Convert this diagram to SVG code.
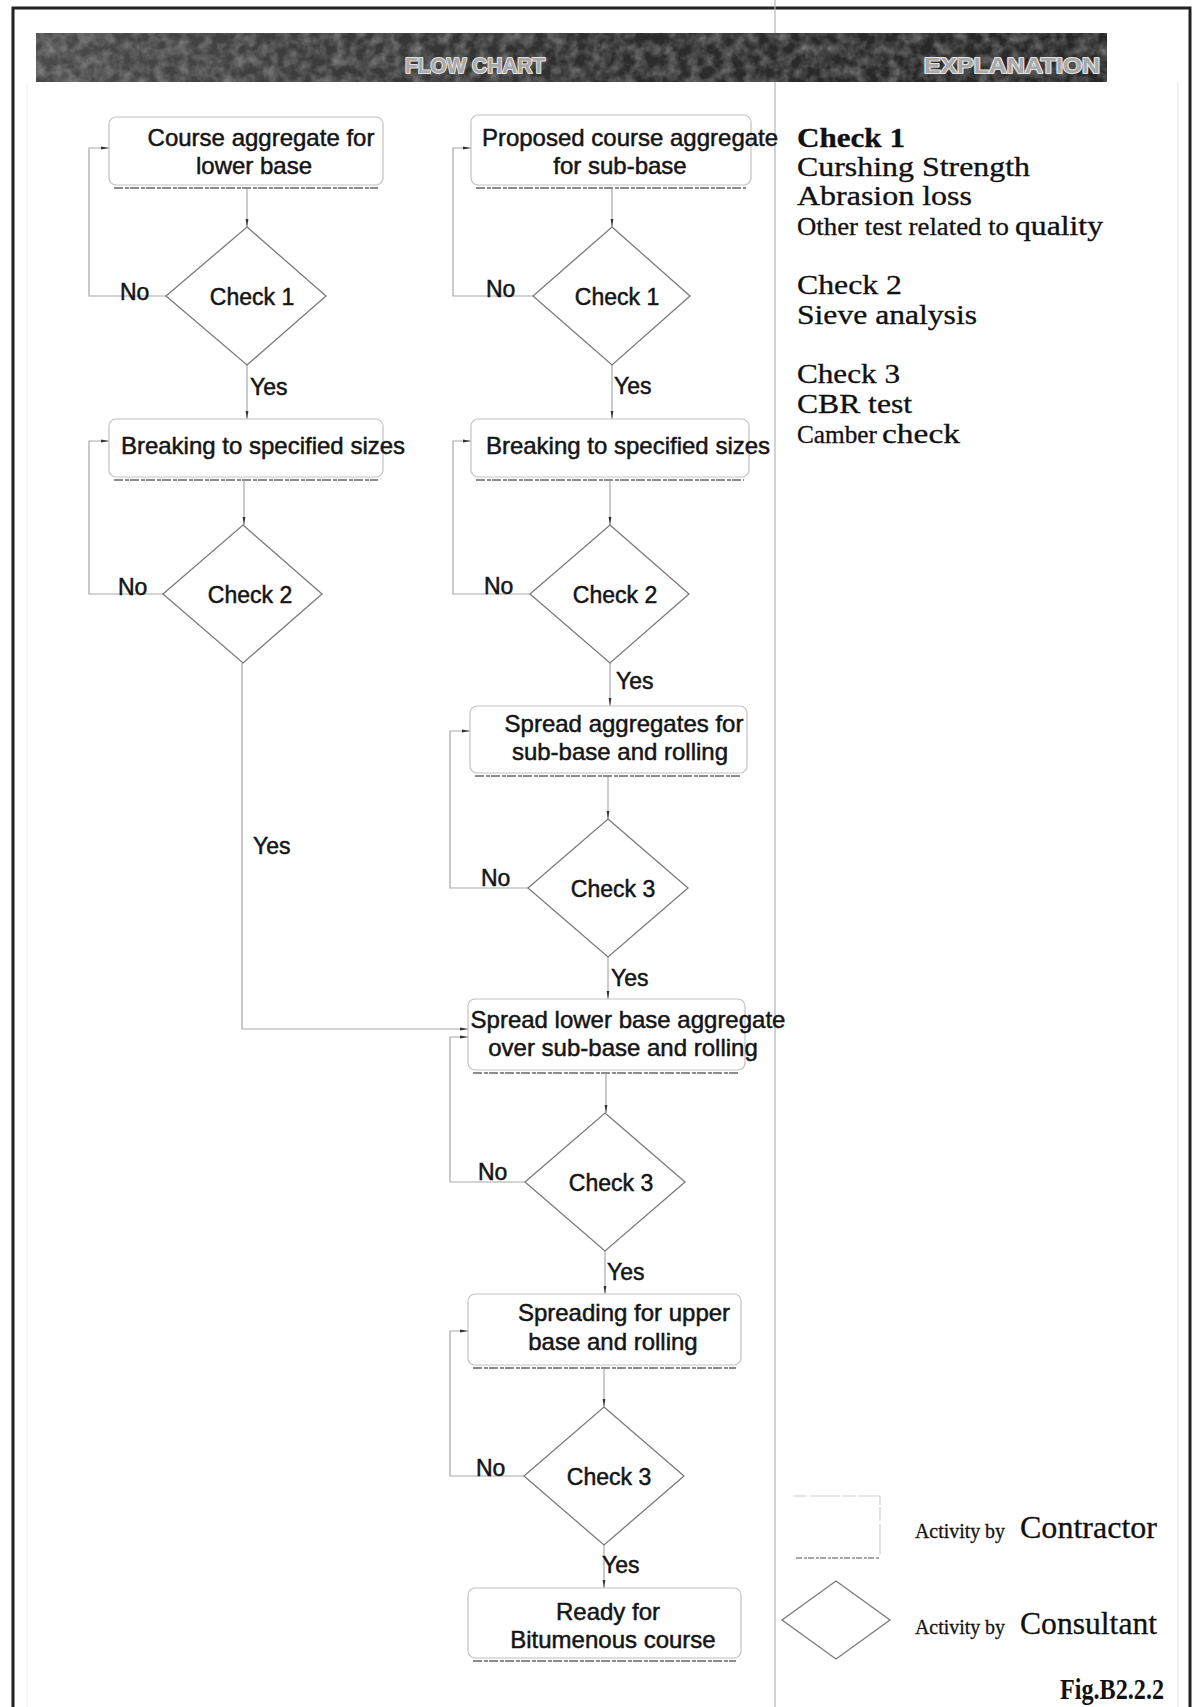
<svg xmlns="http://www.w3.org/2000/svg" width="1199" height="1707" viewBox="0 0 1199 1707">
<defs>
<style>
.bx{fill:#fff;stroke:#c2c2c2;stroke-width:1.2}
.sh{fill:none;stroke:#8c8c8c;stroke-width:2;stroke-dasharray:9 2 4 1}
.dm{fill:#fff;stroke:#7a7a7a;stroke-width:1.3}
.ln{fill:none;stroke:#a8a8a8;stroke-width:1.2}
.t{font-family:"Liberation Sans",Arial,sans-serif;font-size:24px;fill:#151515;stroke:#151515;stroke-width:0.5}
.tm{text-anchor:middle}
.lb{font-family:"Liberation Sans",Arial,sans-serif;font-size:23px;fill:#151515;stroke:#151515;stroke-width:0.5}
.ex{font-family:"Liberation Serif","Times New Roman",serif;font-size:28px;fill:#111;stroke:#111;stroke-width:0.35}
.exs{font-family:"Liberation Serif","Times New Roman",serif;font-size:25px;fill:#111;stroke:#111;stroke-width:0.3}
.lg{font-family:"Liberation Serif","Times New Roman",serif;fill:#111;stroke:#111;stroke-width:0.3}
.hd{font-family:"Liberation Sans",Arial,sans-serif;font-weight:bold;font-size:22px;fill:#a8a8a8;stroke:#e4e4e4;stroke-width:2.2;stroke-linejoin:round;paint-order:stroke}
</style>
<marker id="tk" viewBox="0 0 8 6" refX="8" refY="3" markerWidth="8" markerHeight="6" markerUnits="userSpaceOnUse" orient="auto">
<path d="M0,1.6 L8,3 L0,4.4 z" fill="#333"/>
</marker>
<filter id="grain" x="0" y="0" width="100%" height="100%">
<feTurbulence type="fractalNoise" baseFrequency="0.09" numOctaves="3" seed="7"/>
<feColorMatrix type="matrix" values="0 0 0 0 0.5  0 0 0 0 0.5  0 0 0 0 0.5  0 0 0 1.4 -0.45"/>
</filter>
<linearGradient id="hg" x1="0" y1="0" x2="1" y2="0">
<stop offset="0" stop-color="#4a4a4a"/>
<stop offset="0.55" stop-color="#2c2c2c"/>
<stop offset="1" stop-color="#262626"/>
</linearGradient>
</defs>
<rect width="1199" height="1707" fill="#fff"/>
<!-- frame -->
<rect x="13" y="8" width="1177" height="1730" fill="none" stroke="#222" stroke-width="3"/>
<line x1="27" y1="85" x2="27" y2="1707" stroke="#f3f3f3" stroke-width="1.5"/>
<line x1="1178" y1="82" x2="1178" y2="1707" stroke="#ededed" stroke-width="1.5"/>
<line x1="775" y1="0" x2="775" y2="1707" stroke="#b5b5b5" stroke-width="1.2"/>
<!-- header -->
<g id="header">
<rect x="36" y="33" width="1071" height="49" fill="url(#hg)"/>
<rect x="36" y="33" width="1071" height="49" filter="url(#grain)" opacity="0.6"/>
<text class="hd" x="475" y="73" text-anchor="middle" textLength="140" lengthAdjust="spacingAndGlyphs">FLOW CHART</text>
<text class="hd" x="1012" y="73" text-anchor="middle" textLength="176" lengthAdjust="spacingAndGlyphs">EXPLANATION</text>
</g>
<!-- connectors -->
<g id="connectors">
<path class="ln" d="M247,188 V227" marker-end="url(#tk)"/>
<path class="ln" d="M166,296 H89 V148 H109" marker-end="url(#tk)"/>
<path class="ln" d="M247,365 V419" marker-end="url(#tk)"/>
<path class="ln" d="M244,480 V525" marker-end="url(#tk)"/>
<path class="ln" d="M163,594 H89 V441 H109" marker-end="url(#tk)"/>
<path class="ln" d="M242,663 V1029 H468" marker-end="url(#tk)"/>
<path class="ln" d="M612,188 V227" marker-end="url(#tk)"/>
<path class="ln" d="M533,296 H453 V148 H471" marker-end="url(#tk)"/>
<path class="ln" d="M612,365 V419" marker-end="url(#tk)"/>
<path class="ln" d="M610,480 V525" marker-end="url(#tk)"/>
<path class="ln" d="M530,594 H453 V441 H471" marker-end="url(#tk)"/>
<path class="ln" d="M610,663 V706" marker-end="url(#tk)"/>
<path class="ln" d="M608,776 V819" marker-end="url(#tk)"/>
<path class="ln" d="M528,888 H450 V731 H470" marker-end="url(#tk)"/>
<path class="ln" d="M608,957 V999" marker-end="url(#tk)"/>
<path class="ln" d="M606,1073 V1113" marker-end="url(#tk)"/>
<path class="ln" d="M525,1182 H450 V1037 H468" marker-end="url(#tk)"/>
<path class="ln" d="M605,1251 V1294" marker-end="url(#tk)"/>
<path class="ln" d="M604,1368 V1407" marker-end="url(#tk)"/>
<path class="ln" d="M524,1476 H450 V1331 H468" marker-end="url(#tk)"/>
<path class="ln" d="M604,1545 V1588" marker-end="url(#tk)"/>
<text class="lb" x="120" y="300">No</text>
<text class="lb" x="250" y="395">Yes</text>
<text class="lb" x="118" y="595">No</text>
<text class="lb" x="253" y="854">Yes</text>
<text class="lb" x="486" y="297">No</text>
<text class="lb" x="614" y="394">Yes</text>
<text class="lb" x="484" y="594">No</text>
<text class="lb" x="616" y="689">Yes</text>
<text class="lb" x="481" y="886">No</text>
<text class="lb" x="611" y="986">Yes</text>
<text class="lb" x="478" y="1180">No</text>
<text class="lb" x="607" y="1280">Yes</text>
<text class="lb" x="476" y="1476">No</text>
<text class="lb" x="602" y="1573">Yes</text>
</g>
<!-- left column -->
<g id="box-l1">
<rect class="bx" x="109" y="117" width="274" height="68" rx="7"/>
<path class="sh" d="M114,188 H378"/>
<text class="t tm" x="261" y="146">Course aggregate for</text>
<text class="t tm" x="254" y="174">lower base</text>
</g>
<g id="dia-l1">
<polygon class="dm" points="247,227 326,296 247,365 166,296"/>
<text class="lb tm" x="252" y="305">Check 1</text>
</g>
<g id="box-l2">
<rect class="bx" x="109" y="419" width="274" height="58" rx="7"/>
<path class="sh" d="M114,480 H378"/>
<text class="t tm" x="263" y="454">Breaking to specified sizes</text>
</g>
<g id="dia-l2">
<polygon class="dm" points="243,525 322,594 243,663 163,594"/>
<text class="lb tm" x="250" y="603">Check 2</text>
</g>
<!-- right column -->
<g id="box-r1">
<rect class="bx" x="471" y="115" width="280" height="70" rx="7"/>
<path class="sh" d="M476,188 H746"/>
<text class="t tm" x="630" y="146">Proposed course aggregate</text>
<text class="t tm" x="620" y="174">for sub-base</text>
</g>
<g id="dia-r1">
<polygon class="dm" points="612,227 690,296 612,365 533,296"/>
<text class="lb tm" x="617" y="305">Check 1</text>
</g>
<g id="box-r2">
<rect class="bx" x="471" y="419" width="278" height="58" rx="7"/>
<path class="sh" d="M476,480 H744"/>
<text class="t tm" x="628" y="454">Breaking to specified sizes</text>
</g>
<g id="dia-r2">
<polygon class="dm" points="610,525 689,594 610,663 530,594"/>
<text class="lb tm" x="615" y="603">Check 2</text>
</g>
<g id="box-r3">
<rect class="bx" x="470" y="706" width="277" height="67" rx="7"/>
<path class="sh" d="M475,776 H742"/>
<text class="t tm" x="624" y="732">Spread aggregates for</text>
<text class="t tm" x="620" y="760">sub-base and rolling</text>
</g>
<g id="dia-r3">
<polygon class="dm" points="608,819 688,888 608,957 528,888"/>
<text class="lb tm" x="613" y="897">Check 3</text>
</g>
<g id="box-c1">
<rect class="bx" x="468" y="999" width="277" height="71" rx="7"/>
<path class="sh" d="M473,1073 H740"/>
<text class="t tm" x="628" y="1028">Spread lower base aggregate</text>
<text class="t tm" x="623" y="1056">over sub-base and rolling</text>
</g>
<g id="dia-r4">
<polygon class="dm" points="605,1113 685,1182 605,1251 525,1182"/>
<text class="lb tm" x="611" y="1191">Check 3</text>
</g>
<g id="box-r5">
<rect class="bx" x="468" y="1294" width="273" height="71" rx="7"/>
<path class="sh" d="M473,1368 H736"/>
<text class="t tm" x="624" y="1321">Spreading for upper</text>
<text class="t tm" x="613" y="1350">base and rolling</text>
</g>
<g id="dia-r5">
<polygon class="dm" points="604,1407 684,1476 604,1545 524,1476"/>
<text class="lb tm" x="609" y="1485">Check 3</text>
</g>
<g id="box-r6">
<rect class="bx" x="468" y="1588" width="273" height="70" rx="7"/>
<path class="sh" d="M473,1661 H736"/>
<text class="t tm" x="608" y="1620">Ready for</text>
<text class="t tm" x="613" y="1648">Bitumenous course</text>
</g>
<!-- explanation -->
<g id="explanation">
<text class="ex" x="797" y="147" font-weight="bold" textLength="108" lengthAdjust="spacingAndGlyphs">Check 1</text>
<text class="ex" x="797" y="176" textLength="233" lengthAdjust="spacingAndGlyphs">Curshing Strength</text>
<text class="ex" x="797" y="205" textLength="175" lengthAdjust="spacingAndGlyphs">Abrasion loss</text>
<text class="exs" x="797" y="235" textLength="212" lengthAdjust="spacingAndGlyphs">Other test related to</text>
<text class="ex" x="1015" y="235" textLength="88" lengthAdjust="spacingAndGlyphs">quality</text>
<text class="ex" x="797" y="294" textLength="105" lengthAdjust="spacingAndGlyphs">Check 2</text>
<text class="ex" x="797" y="324" textLength="180" lengthAdjust="spacingAndGlyphs">Sieve analysis</text>
<text class="ex" x="797" y="383" textLength="103" lengthAdjust="spacingAndGlyphs">Check 3</text>
<text class="ex" x="797" y="413" textLength="115" lengthAdjust="spacingAndGlyphs">CBR test</text>
<text class="exs" x="797" y="443" textLength="80" lengthAdjust="spacingAndGlyphs">Camber</text>
<text class="ex" x="882" y="443" textLength="78" lengthAdjust="spacingAndGlyphs">check</text>
</g>
<!-- legend -->
<g id="legend-contractor">
<path d="M793,1496 H880 V1556" fill="none" stroke="#d0d0d0" stroke-width="1.2" stroke-dasharray="14 3 30 2"/>
<path d="M796,1558 H880" fill="none" stroke="#8c8c8c" stroke-width="1.6" stroke-dasharray="6 2 3 1"/>
<text class="lg" x="915" y="1538" font-size="21" textLength="90" lengthAdjust="spacingAndGlyphs">Activity by</text>
<text class="lg" x="1020" y="1538" font-size="32" textLength="137" lengthAdjust="spacingAndGlyphs">Contractor</text>
</g>
<g id="legend-consultant">
<polygon class="dm" points="836,1581 890,1620 836,1659 782,1620"/>
<text class="lg" x="915" y="1634" font-size="21" textLength="90" lengthAdjust="spacingAndGlyphs">Activity by</text>
<text class="lg" x="1020" y="1634" font-size="32" textLength="137" lengthAdjust="spacingAndGlyphs">Consultant</text>
</g>
<text x="1164" y="1699" text-anchor="end" font-family="'Liberation Serif','Times New Roman',serif" font-weight="bold" font-size="30" fill="#111" textLength="104" lengthAdjust="spacingAndGlyphs">Fig.B2.2.2</text>
</svg>
